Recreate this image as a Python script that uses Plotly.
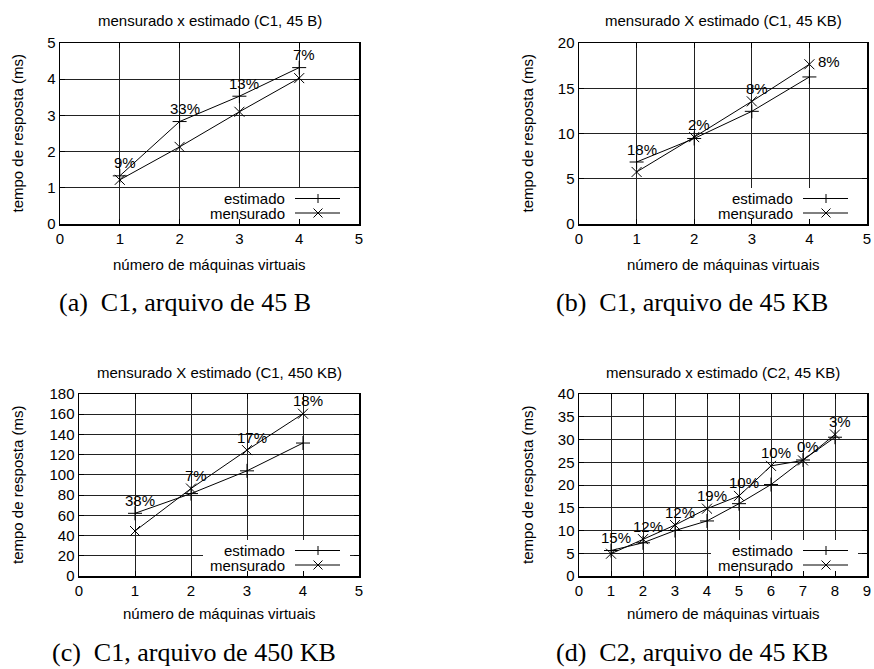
import plotly.graph_objects as go

W, H = 874, 669

# ---------------- data ----------------
vms_c1 = [1, 2, 3, 4]
vms_c2 = [1, 2, 3, 4, 5, 6, 7, 8]

est_a = [1.33, 2.83, 3.53, 4.32]
mes_a = [1.22, 2.13, 3.10, 4.03]
lbl_a = ["9%", "33%", "13%", "7%"]

est_b = [6.85, 9.45, 12.45, 16.25]
mes_b = [5.75, 9.6, 13.55, 17.65]
lbl_b = ["18%", "2%", "8%", "8%"]

est_c = [62, 81.5, 104, 131.5]
mes_c = [44.5, 86.5, 124.5, 160.5]
lbl_c = ["38%", "7%", "17%", "18%"]

est_d = [5.6, 7.3, 10.0, 12.1, 15.9, 20.1, 25.5, 30.5]
mes_d = [4.9, 8.1, 11.2, 14.8, 17.6, 24.2, 25.4, 31.1]
lbl_d = ["15%", "12%", "12%", "19%", "10%", "10%", "0%", "3%"]

titles = ["mensurado x estimado (C1, 45 B)",
          "mensurado X estimado (C1, 45 KB)",
          "mensurado X estimado (C1, 450 KB)",
          "mensurado x estimado (C2, 45 KB)"]
captions = ["(a)  C1, arquivo de 45 B",
            "(b)  C1, arquivo de 45 KB",
            "(c)  C1, arquivo de 450 KB",
            "(d)  C2, arquivo de 45 KB"]
xlabel = "número de máquinas virtuais"
ylabel = "tempo de resposta (ms)"
series_names = ["estimado", "mensurado"]

# ---------------- layout config (pixels) ----------------
boxes = [(60, 43, 359, 224), (579, 43, 867, 224),
         (79, 394, 359, 576), (579, 394, 867, 576)]
xranges = [[0, 5], [0, 5], [0, 5], [0, 9]]
yranges = [[0, 5], [0, 20], [0, 180], [0, 40]]
ydticks = [1, 5, 20, 5]
title_y = [20, 20, 372, 372]
xlab_y = [264, 264, 613, 613]
ylab_x = [17, 527, 17, 527]
cap_pos = [(185, 302), (692, 302), (194, 652), (692, 652)]
label_shift = [[(5, 13)] * 4,
               [(5, 13), (5, 13), (5, 13), (20, 3)],
               [(5, 13)] * 4,
               [(5, 13)] * 8]

panels = [(vms_c1, est_a, mes_a, lbl_a), (vms_c1, est_b, mes_b, lbl_b),
          (vms_c1, est_c, mes_c, lbl_c), (vms_c2, est_d, mes_d, lbl_d)]

FONT = "Liberation Sans, Arial, sans-serif"
SERIF = "Liberation Serif, Times New Roman, serif"
FS = 15

fig = go.Figure()
annotations = []
shapes = []
layout = {}

for i, ((xs, est, mes, lbls), box) in enumerate(zip(panels, boxes)):
    n = "" if i == 0 else str(i + 1)
    l, t, r, b = box
    common = dict(showgrid=True, gridcolor="#222", gridwidth=1,
                  showline=True, linecolor="black", linewidth=1.5, mirror="allticks",
                  ticks="inside", ticklen=5, tickcolor="black", zeroline=False,
                  tickfont=dict(family=FONT, size=FS, color="black"),
                  ticklabeloverflow="allow", automargin=False, fixedrange=True, tick0=0)
    layout["xaxis" + n] = dict(domain=[l / W, r / W], range=xranges[i], dtick=1,
                               anchor="y" + n, **common)
    layout["yaxis" + n] = dict(domain=[1 - b / H, 1 - t / H], range=yranges[i],
                               dtick=ydticks[i], anchor="x" + n, **common)

    fig.add_trace(go.Scatter(x=xs, y=est, mode="lines+markers", name=series_names[0],
                             xaxis="x" + n, yaxis="y" + n, showlegend=False,
                             line=dict(color="black", width=1),
                             marker=dict(symbol="cross-thin", size=10,
                                         line=dict(color="black", width=1))))
    fig.add_trace(go.Scatter(x=xs, y=mes, mode="lines+markers", name=series_names[1],
                             xaxis="x" + n, yaxis="y" + n, showlegend=False,
                             line=dict(color="black", width=1),
                             marker=dict(symbol="x-thin", size=10,
                                         line=dict(color="black", width=1))))

    # percentage labels
    for j, (xv, e, m, s) in enumerate(zip(xs, est, mes, lbls)):
        dx, dy = label_shift[i][j]
        annotations.append(dict(x=xv, y=max(e, m), xref="x" + n, yref="y" + n, text=s,
                                showarrow=False, xshift=dx, yshift=dy,
                                xanchor="center", yanchor="middle",
                                font=dict(family=FONT, size=FS, color="black")))

    cx = (l + r) / 2 / W
    cy = 1 - (t + b) / 2 / H
    annotations.append(dict(x=cx, y=1 - title_y[i] / H, xref="paper", yref="paper",
                            text=titles[i], showarrow=False,
                            xanchor="center", yanchor="middle",
                            font=dict(family=FONT, size=FS, color="black")))
    annotations.append(dict(x=cx, y=1 - xlab_y[i] / H, xref="paper", yref="paper",
                            text=xlabel, showarrow=False,
                            xanchor="center", yanchor="middle",
                            font=dict(family=FONT, size=FS, color="black")))
    annotations.append(dict(x=ylab_x[i] / W, y=cy, xref="paper", yref="paper",
                            text=ylabel, showarrow=False, textangle=-90,
                            xanchor="center", yanchor="middle",
                            font=dict(family=FONT, size=FS, color="black")))
    annotations.append(dict(x=cap_pos[i][0] / W, y=1 - cap_pos[i][1] / H,
                            xref="paper", yref="paper", text=captions[i],
                            showarrow=False, xanchor="center", yanchor="middle",
                            font=dict(family=SERIF, size=26, color="black")))

    # custom gnuplot-style key (text, then sample to the right)
    xd, yd = "x" + n + " domain", "y" + n + " domain"
    shapes.append(dict(type="rect", xref=xd, yref=yd, xsizemode="pixel", ysizemode="pixel",
                       xanchor=1, yanchor=0, x0=-156, x1=-9, y0=5, y1=36,
                       fillcolor="white", line=dict(width=0), layer="above"))
    for k, rowy in enumerate([25.5, 11]):
        annotations.append(dict(x=1, y=0, xref=xd, yref=yd, text=series_names[k],
                                showarrow=False, xanchor="right", yanchor="middle",
                                xshift=-72, yshift=rowy,
                                font=dict(family=FONT, size=FS, color="black")))
        shapes.append(dict(type="line", xref=xd, yref=yd, xsizemode="pixel",
                           ysizemode="pixel", xanchor=1, yanchor=0,
                           x0=-64, x1=-19, y0=rowy, y1=rowy,
                           line=dict(color="black", width=1), layer="above"))
        if k == 0:
            shapes.append(dict(type="line", xref=xd, yref=yd, xsizemode="pixel",
                               ysizemode="pixel", xanchor=1, yanchor=0,
                               x0=-41, x1=-41, y0=rowy - 4.5, y1=rowy + 4.5,
                               line=dict(color="black", width=1), layer="above"))
        else:
            for (a0, a1) in [((-45.5, rowy - 4.5), (-36.5, rowy + 4.5)),
                             ((-45.5, rowy + 4.5), (-36.5, rowy - 4.5))]:
                shapes.append(dict(type="line", xref=xd, yref=yd, xsizemode="pixel",
                                   ysizemode="pixel", xanchor=1, yanchor=0,
                                   x0=a0[0], y0=a0[1], x1=a1[0], y1=a1[1],
                                   line=dict(color="black", width=1), layer="above"))

fig.update_layout(width=W, height=H,
                  margin=dict(l=0, r=0, t=0, b=0, pad=0, autoexpand=False),
                  paper_bgcolor="white", plot_bgcolor="white",
                  annotations=annotations, shapes=shapes, showlegend=False,
                  hovermode=False, **layout)

fig.write_html("out.html", config={"displayModeBar": False, "staticPlot": True},
               post_script="document.body.style.margin='0';"
                           "document.body.style.overflow='hidden';")
